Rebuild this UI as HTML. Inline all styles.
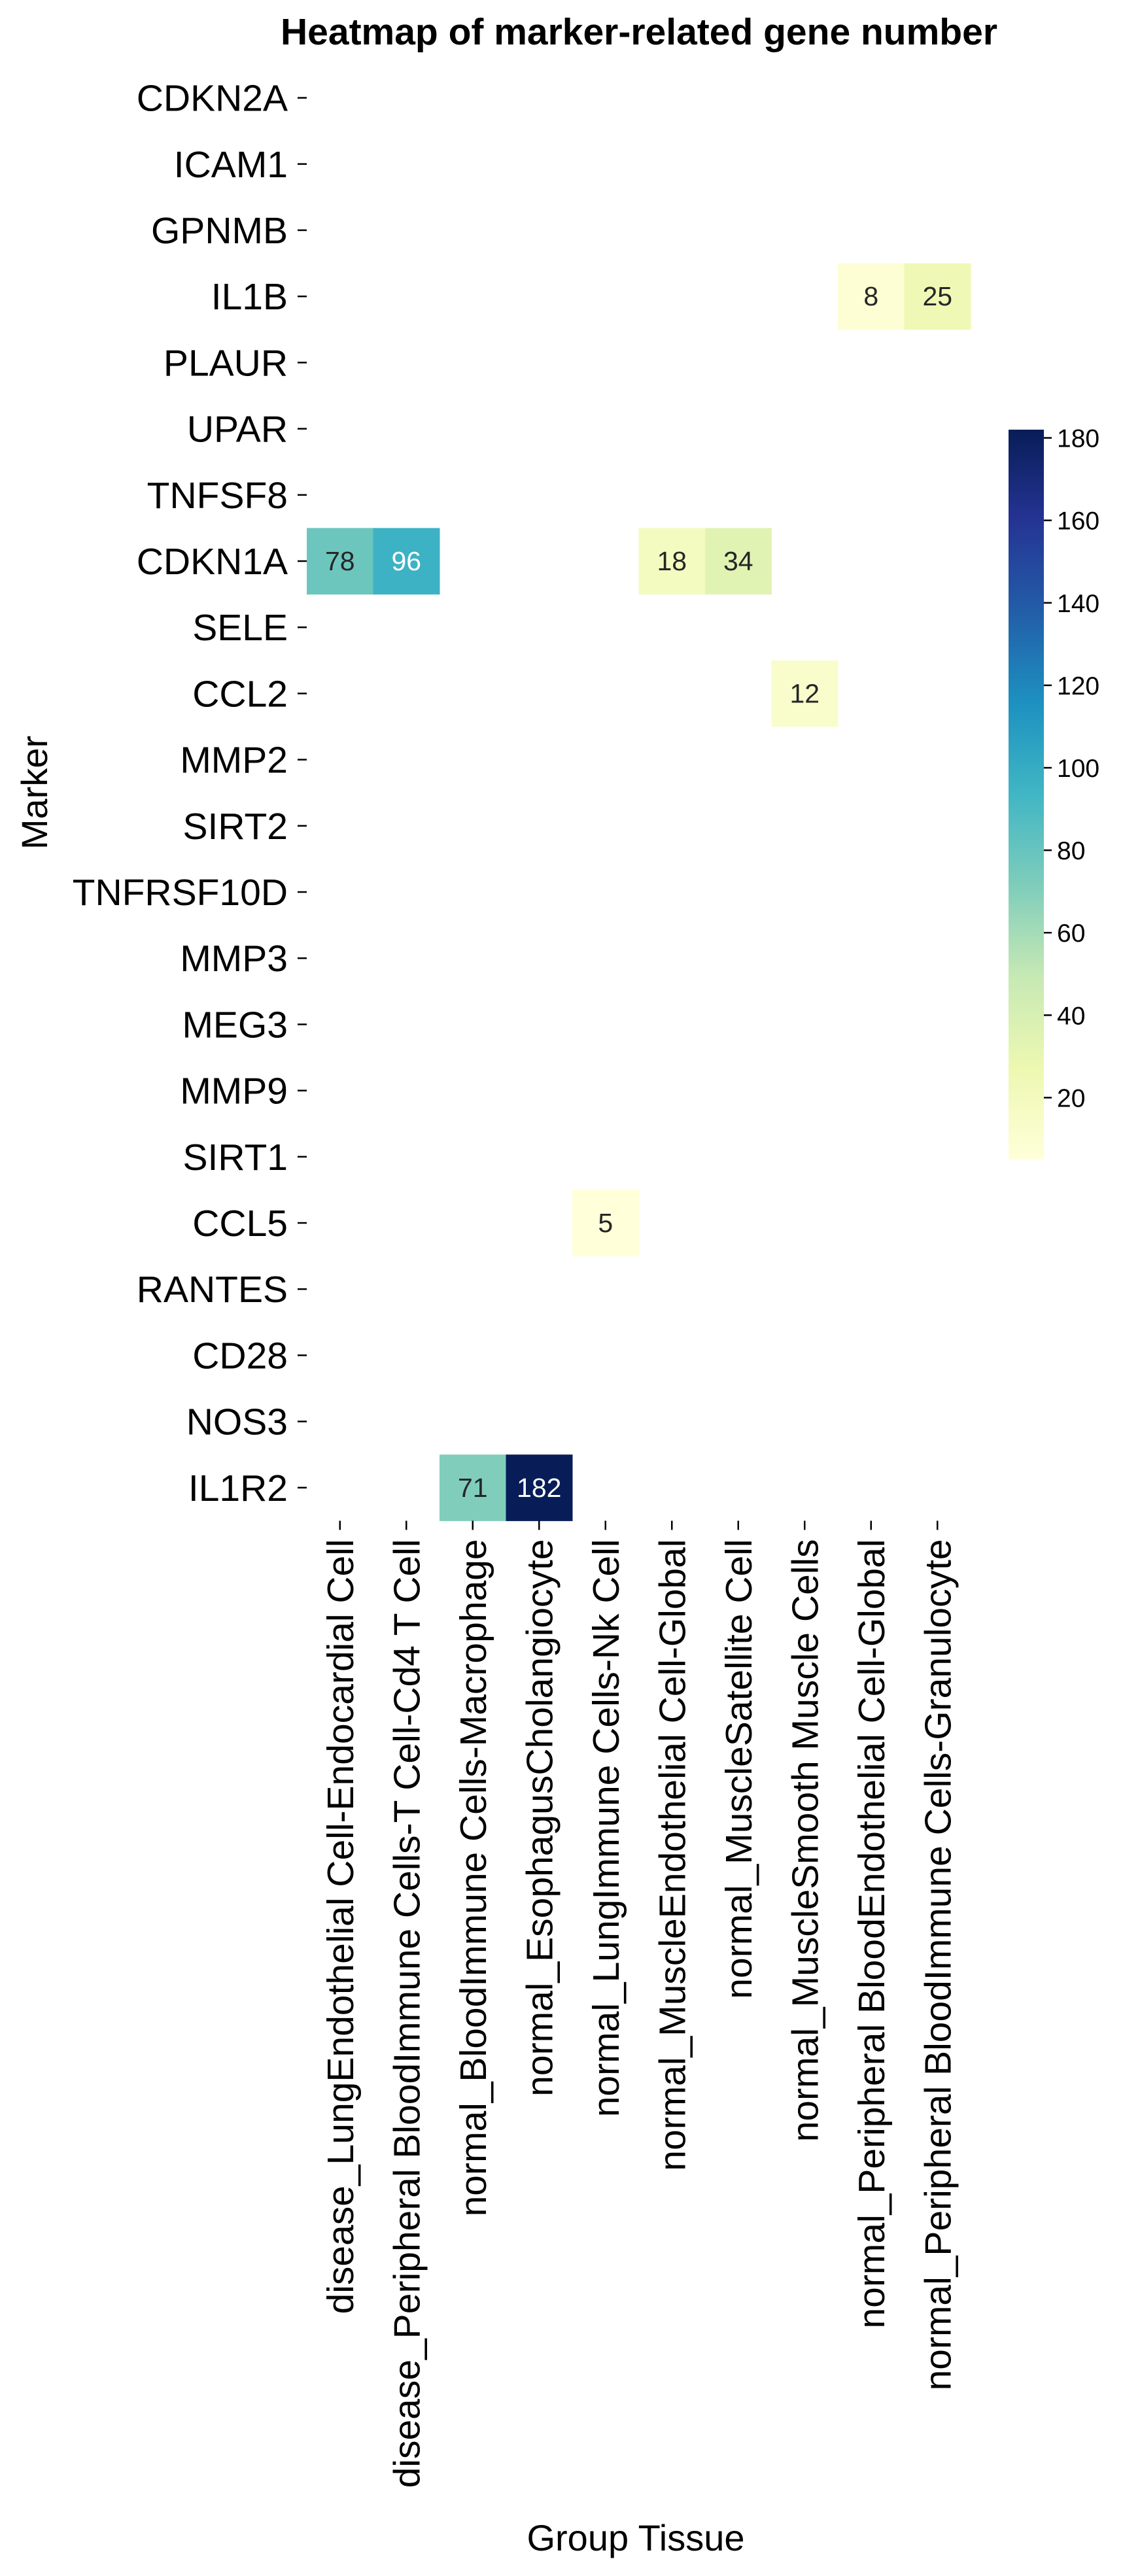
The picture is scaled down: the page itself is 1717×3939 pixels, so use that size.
<!DOCTYPE html>
<html><head><meta charset="utf-8">
<style>body{margin:0;background:#fff}svg{display:block}text{font-family:"Liberation Sans",Arial,sans-serif}</style>
</head><body>
<svg id="chart" width="1717" height="3939" xmlns="http://www.w3.org/2000/svg">
<text x="977" y="68" font-size="57" font-weight="bold" text-anchor="middle">Heatmap of marker-related gene number</text>
<text transform="translate(72,1212) rotate(-90)" font-size="56" text-anchor="middle">Marker</text>
<text x="972" y="3900" font-size="56" text-anchor="middle">Group Tissue</text>
<g id="cells"></g><g id="ylabels"></g><g id="xlabels"></g><g id="cbar"></g>
</svg>
<script>
const markers = ["CDKN2A","ICAM1","GPNMB","IL1B","PLAUR","UPAR","TNFSF8","CDKN1A","SELE","CCL2","MMP2","SIRT2","TNFRSF10D","MMP3","MEG3","MMP9","SIRT1","CCL5","RANTES","CD28","NOS3","IL1R2"];
const groups = ["disease_LungEndothelial Cell-Endocardial Cell","disease_Peripheral BloodImmune Cells-T Cell-Cd4 T Cell","normal_BloodImmune Cells-Macrophage","normal_EsophagusCholangiocyte","normal_LungImmune Cells-Nk Cell","normal_MuscleEndothelial Cell-Global","normal_MuscleSatellite Cell","normal_MuscleSmooth Muscle Cells","normal_Peripheral BloodEndothelial Cell-Global","normal_Peripheral BloodImmune Cells-Granulocyte"];
const cellMarker = ["IL1B","IL1B","CDKN1A","CDKN1A","CDKN1A","CDKN1A","CCL2","CCL5","IL1R2","IL1R2"];
const cellGroup = [8,9,0,1,5,6,7,4,2,3];
const cellValue = [8,25,78,96,18,34,12,5,71,182];
const cbarTicks = [20,40,60,80,100,120,140,160,180];
const vmin = 5, vmax = 182;

const NS="http://www.w3.org/2000/svg";
const left=469, top0=99, cw=101.5, rh=101.2;
const cbX=1542, cbW=54, cbTop=657, cbBot=1773;
const stops=["#ffffd9","#edf8b1","#c7e9b4","#7fcdbb","#41b6c4","#1d91c0","#225ea8","#253494","#081d58"];
function hex(h){return [1,3,5].map(i=>parseInt(h.substr(i,2),16));}
function cmap(t){t=Math.max(0,Math.min(1,t));const p=t*8,i=Math.min(7,Math.floor(p)),f=p-i;const a=hex(stops[i]),b=hex(stops[i+1]);return "rgb("+a.map((v,k)=>Math.round(v+(b[k]-v)*f)).join(",")+")";}
function xPos(g){return left+g*cw;}
function yPos(m){return top0+markers.indexOf(m)*rh;}
function norm(v){return (v-vmin)/(vmax-vmin);}
function cbY(v){return cbBot-(v-vmin)/(vmax-vmin)*(cbBot-cbTop);}
function mk(tag,attrs,parent){const e=document.createElementNS(NS,tag);for(const k in attrs)e.setAttribute(k,attrs[k]);parent.appendChild(e);return e;}

const cells=document.getElementById('cells');
cellValue.forEach((v,i)=>{
  const x=xPos(cellGroup[i]), y=yPos(cellMarker[i]);
  const r=mk('rect',{x:x,y:y,width:cw+0.5,height:rh+0.5,fill:cmap(norm(v))},cells);
  
  
  const t=mk('text',{x:x+cw/2,y:y+rh/2+14,'font-size':41,'text-anchor':'middle',fill:norm(v)>0.5?'#fff':'#262626'},cells);
  
  
  t.textContent=v;
});
const yl=document.getElementById('ylabels');
markers.forEach((m,i)=>{
  const y=top0+i*rh+rh/2;
  const l=mk('line',{x1:455,x2:469,y1:y,y2:y,stroke:'#000','stroke-width':2.5},yl);
  
  
  const t=mk('text',{x:440,y:y+20,'font-size':57,'text-anchor':'end'},yl);
  
  
  t.textContent=m;
});
const xl=document.getElementById('xlabels');
const bottom=top0+markers.length*rh;
groups.forEach((g,i)=>{
  const x=xPos(i)+cw/2;
  const l=mk('line',{x1:x,x2:x,y1:bottom,y2:bottom+14,stroke:'#000','stroke-width':2.5},xl);
  
  
  const t=mk('text',{transform:`translate(${x+20},${bottom+28}) rotate(-90)`,'font-size':57,'text-anchor':'end'},xl);
  
  
  t.textContent=g;
});
const cb=document.getElementById('cbar');
const defs=mk('defs',{},cb);
const grad=mk('linearGradient',{id:'cg',x1:0,y1:1,x2:0,y2:0},defs);
for(let k=0;k<=8;k++){mk('stop',{offset:k/8,'stop-color':stops[k]},grad);}
const bar=mk('rect',{x:cbX,y:cbTop,width:cbW,height:cbBot-cbTop,fill:'url(#cg)'},cb);


cbarTicks.forEach(v=>{
  const y=cbY(v);
  const l=mk('line',{x1:cbX+cbW,x2:cbX+cbW+12,y1:y,y2:y,stroke:'#000','stroke-width':2.5},cb);
  
  
  const t=mk('text',{x:cbX+cbW+20,y:y+14,'font-size':39},cb);
  
  
  t.textContent=v;
});
</script>
</body></html>
